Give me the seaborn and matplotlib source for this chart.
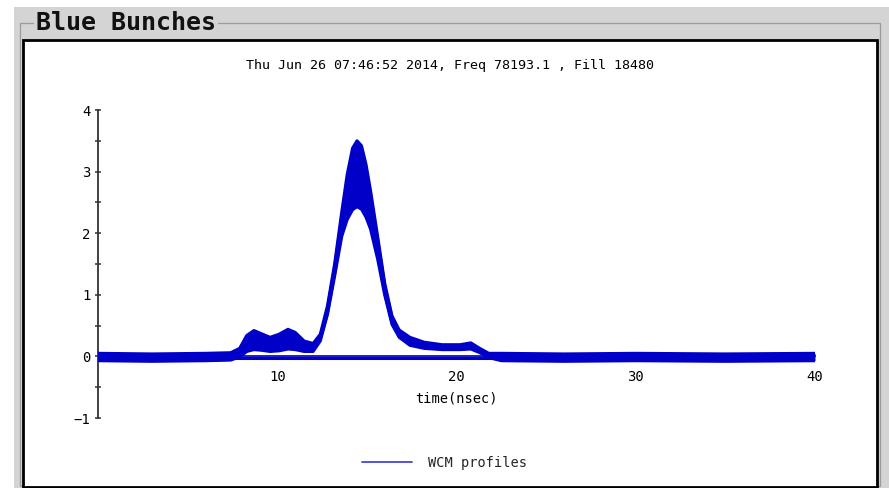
import numpy as np
import pandas as pd
import matplotlib
matplotlib.use("Agg")
import matplotlib.pyplot as plt
from matplotlib.patches import Rectangle
from matplotlib.lines import Line2D
import seaborn as sns

# ---------------- data ----------------
time_ns = [0, 3, 6, 7.4, 7.9, 8.3, 8.7, 9.1, 9.6, 10.1, 10.6, 11.0, 11.5, 12.0,
           12.4, 12.8, 13.2, 13.6, 13.9, 14.2, 14.45, 14.7, 14.95, 15.2, 15.6, 16.0,
           16.4, 16.8, 17.4, 18.2, 19.2, 20.2, 20.8, 21.3, 21.8, 22.5, 26, 30, 35, 40]

profile_a = [0.05, 0.04, 0.05, 0.06, 0.13, 0.34, 0.42, 0.37, 0.31, 0.36, 0.44, 0.39, 0.25, 0.21,
             0.36, 0.82, 1.50, 2.35, 2.95, 3.38, 3.50, 3.42, 3.12, 2.70, 1.95, 1.18,
             0.66, 0.43, 0.31, 0.23, 0.19, 0.19, 0.22, 0.13, 0.05, 0.05, 0.04, 0.05, 0.04, 0.05]
profile_b = [0.00, 0.01, 0.00, 0.01, 0.09, 0.28, 0.36, 0.31, 0.26, 0.30, 0.37, 0.33, 0.20, 0.17,
             0.32, 0.77, 1.45, 2.25, 2.80, 3.15, 3.25, 3.18, 2.92, 2.57, 1.88, 1.14,
             0.63, 0.40, 0.27, 0.20, 0.16, 0.16, 0.18, 0.10, 0.03, 0.00, 0.01, 0.00, 0.01, 0.00]
profile_c = [-0.04, -0.05, -0.04, -0.03, 0.05, 0.22, 0.29, 0.25, 0.21, 0.24, 0.30, 0.27, 0.16, 0.14,
             0.30, 0.74, 1.40, 2.15, 2.62, 2.92, 3.00, 2.94, 2.72, 2.43, 1.80, 1.09,
             0.58, 0.37, 0.24, 0.17, 0.14, 0.14, 0.16, 0.08, 0.00, -0.04, -0.05, -0.04, -0.05, -0.04]
profile_d = [0.03, 0.02, 0.03, 0.03, 0.06, 0.17, 0.22, 0.19, 0.16, 0.18, 0.24, 0.21, 0.13, 0.12,
             0.28, 0.71, 1.35, 2.05, 2.42, 2.64, 2.70, 2.65, 2.48, 2.27, 1.68, 1.03,
             0.55, 0.34, 0.21, 0.15, 0.12, 0.12, 0.14, 0.07, 0.03, 0.03, 0.02, 0.03, 0.02, 0.03]
profile_e = [-0.07, -0.08, -0.07, -0.06, -0.01, 0.08, 0.11, 0.10, 0.08, 0.09, 0.12, 0.11, 0.08, 0.08,
             0.25, 0.68, 1.30, 1.95, 2.22, 2.38, 2.43, 2.39, 2.26, 2.07, 1.58, 0.99,
             0.52, 0.31, 0.18, 0.13, 0.11, 0.11, 0.12, 0.06, -0.02, -0.07, -0.08, -0.07, -0.08, -0.07]
profile_flat = [-0.02, -0.02, -0.02, -0.02, -0.02, -0.02, -0.02, -0.02, -0.02, -0.02, -0.02, -0.02, -0.02, -0.02,
                -0.02, -0.02, -0.02, -0.02, -0.02, -0.02, -0.02, -0.02, -0.02, -0.02, -0.02, -0.02,
                -0.02, -0.02, -0.02, -0.02, -0.02, -0.02, -0.02, -0.02, -0.02, -0.02, -0.02, -0.02, -0.02, -0.02]

profiles = {"a": profile_a, "b": profile_b, "c": profile_c, "d": profile_d,
            "e": profile_e, "flat": profile_flat}

title_text = "Blue Bunches"
subtitle_text = "Thu Jun 26 07:46:52 2014, Freq 78193.1 , Fill 18480"
xlabel_text = "time(nsec)"
legend_label = "WCM profiles"
y_ticks = [-1, 0, 1, 2, 3, 4]
x_ticks = [10, 20, 30, 40]

# ---------------- figure ----------------
W, H = 889, 488
sns.set_theme(style="white")
plt.rcParams["font.family"] = ["DejaVu Sans Mono", "DejaVu Sans"]

fig = plt.figure(figsize=(W / 100, H / 100), dpi=100)
fig.patch.set_facecolor("white")


def px_rect(x0, y0, x1, y1, **kw):
    r = Rectangle((x0 / W, 1 - y1 / H), (x1 - x0) / W, (y1 - y0) / H,
                  transform=fig.transFigure, **kw)
    fig.add_artist(r)
    return r


GRAY = "#d4d4d4"
px_rect(14, 7, 889, 488, facecolor=GRAY, edgecolor="none", zorder=-30)
px_rect(19.5, 22.5, 879.5, 486, facecolor="none", edgecolor="#9c9c9c", lw=0.9, zorder=-25)
px_rect(23, 40, 876.5, 486.5, facecolor="white", edgecolor="black", lw=2.0, zorder=-20)

fig.text(36 / W, 1 - 23.5 / H, title_text, fontsize=18, fontweight="bold",
         family=["DejaVu Sans Mono"], color="#111111", ha="left", va="center",
         bbox=dict(facecolor=GRAY, edgecolor="none", pad=1.5))
fig.text(450 / W, 1 - 65 / H, subtitle_text, fontsize=9.6, color="black",
         ha="center", va="center")

ax_left, ax_right = 98, 815
ax_top, ax_bot = 110, 418
ax = fig.add_axes([ax_left / W, 1 - ax_bot / H, (ax_right - ax_left) / W, (ax_bot - ax_top) / H])
ax.patch.set_alpha(0)

rows = []
for name, vals in profiles.items():
    for t, v in zip(time_ns, vals):
        rows.append((name, t, v))
df = pd.DataFrame(rows, columns=["profile", "time", "signal"])

BLUE = "#0000c8"
ax.fill_between(time_ns, profile_e, profile_a, color=BLUE, lw=0, zorder=2)
sns.lineplot(data=df, x="time", y="signal", units="profile", estimator=None,
             color=BLUE, lw=2.2, legend=False, ax=ax, zorder=3,
             solid_capstyle="round", solid_joinstyle="round")

ax.set_xlim(0, 40)
ax.set_ylim(-1, 4)
ax.set_yticks(y_ticks)
ax.set_yticks([-0.5, 0.5, 1.5, 2.5, 3.5], minor=True)
ax.set_xticks(x_ticks)
ax.set_xticklabels([str(v) for v in x_ticks])
ax.set_yticklabels([str(v).replace("-", "\u2212") for v in y_ticks])

for s in ["top", "right"]:
    ax.spines[s].set_visible(False)
ax.spines["left"].set_color("#333333")
ax.spines["left"].set_linewidth(1.3)
ax.spines["bottom"].set_position(("data", 0))
ax.spines["bottom"].set_color(BLUE)
ax.spines["bottom"].set_zorder(1)

ax.tick_params(axis="y", which="both", direction="inout", length=5, width=1.1,
               color="#333333", left=True, labelsize=10, pad=3, labelcolor="black")
ax.tick_params(axis="y", which="minor", length=4)
ax.tick_params(axis="x", which="both", length=0, bottom=True, labelsize=10,
               pad=10, labelcolor="black")
ax.set_xlabel(xlabel_text, fontsize=9.8, color="black", labelpad=5)
ax.set_ylabel("")
ax.grid(False)

fig.legend(handles=[Line2D([], [], color="#4343dd", lw=1.3)], labels=[legend_label],
           loc="center", bbox_to_anchor=(444.5 / W, 1 - 463 / H), frameon=False,
           fontsize=9.8, handlelength=3.7, handletextpad=1.2)

fig.savefig("out.png", dpi=100)
